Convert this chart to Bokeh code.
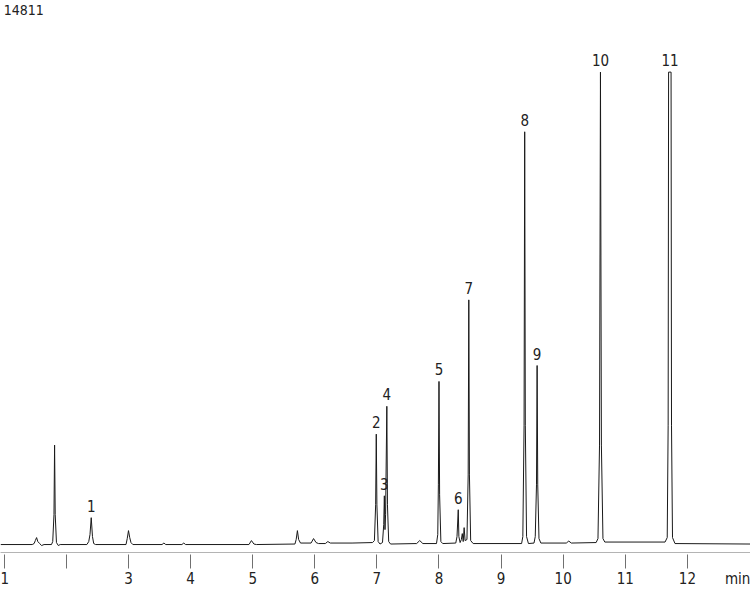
from bokeh.plotting import figure
from bokeh.models import Range1d, FixedTicker, Label, ColumnDataSource
from bokeh.core.properties import value
from bokeh.embed import file_html
from bokeh.resources import INLINE

# ---- data ----
sample_id = "14811"
x_unit = "min"

# trace vertices: retention time (min) and detector signal (arbitrary units)
trace_time = [
    0.94, 1.45,
    1.48, 1.50, 1.52, 1.54, 1.57, 1.60, 1.64,
    1.76, 1.78, 1.80, 1.81, 1.82, 1.84, 1.87, 1.90,
    2.33, 2.36, 2.38, 2.40, 2.42, 2.44, 2.47,
    2.96, 2.98, 3.00, 3.02, 3.04, 3.07,
    3.54, 3.57, 3.60,
    3.86, 3.89, 3.92,
    4.94, 4.98, 5.02, 5.06,
    5.68, 5.70, 5.72, 5.74, 5.77,
    5.94, 5.98, 6.02, 6.06,
    6.17, 6.21, 6.25,
    6.60, 6.93,
    6.96, 6.98, 6.99, 7.00, 7.02, 7.05,
    7.09, 7.11, 7.12, 7.13,
    7.14, 7.16, 7.17, 7.19, 7.22,
    7.64, 7.69, 7.74,
    7.96, 7.98, 7.99, 8.00, 8.01, 8.03, 8.06,
    8.27, 8.29, 8.31, 8.32, 8.34,
    8.36, 8.375, 8.39, 8.405, 8.42,
    8.45, 8.47, 8.48, 8.49, 8.51, 8.55,
    9.33, 9.35, 9.37, 9.38, 9.39, 9.41, 9.44,
    9.53, 9.55, 9.57, 9.58, 9.59, 9.61, 9.64,
    10.05, 10.09, 10.13,
    10.53, 10.56, 10.585, 10.60, 10.615, 10.64, 10.67,
    11.64, 11.675, 11.69, 11.697, 11.737, 11.744, 11.76, 11.80,
    13.02,
]
trace_signal = [
    0, 0,
    1, 4, 7, 3, 1, -1, 0,
    0, 3, 30, 100, 30, 2, -1, 0,
    0, 3, 10, 27, 8, 1, 0,
    0, 6, 14, 7, 2, 0,
    0, 1.5, 0,
    0, 1.5, 0,
    0, 4, 0.5, 0,
    0.5, 5, 14, 5, 1.5,
    1.5, 6, 2, 1,
    1, 3, 1.5,
    1.5, 2,
    4, 40, 111, 40, 3, 0.5,
    2, 20, 49, 15,
    30, 139, 40, 3, 0.5,
    1, 4, 1,
    1, 10, 60, 164, 50, 3, 1,
    1.5, 8, 35, 8, 2,
    5, 11, 3, 17, 4,
    5, 70, 246, 70, 4, 1,
    1, 8, 120, 415, 120, 8, 1,
    1.5, 8, 60, 180, 60, 6, 1.5,
    1.5, 3.5, 1.5,
    2, 6, 100, 475, 100, 6, 2.5,
    2.5, 7, 120, 475, 475, 120, 7, 1,
    0.5,
]

# labelled peaks
peak_names = ["1", "2", "3", "4", "5", "6", "7", "8", "9", "10", "11"]
peak_time = [2.40, 6.99, 7.12, 7.16, 8.00, 8.31, 8.48, 9.38, 9.58, 10.60, 11.72]
peak_height = [27, 111, 49, 139, 164, 35, 246, 415, 180, 475, 475]

# axis: tick marks at whole minutes, labels (2 is unlabelled), unit label position
tick_values = [1, 2, 3, 4, 5, 6, 7, 8, 9, 10, 11, 12]
label_values = [1, 2, 3, 4, 5, 6, 7, 8, 9, 10, 11, 12, 12.81]
label_texts = {1: "1", 2: "", 3: "3", 4: "4", 5: "5", 6: "6", 7: "7", 8: "8",
               9: "9", 10: "10", 11: "11", 12: "12", 12.81: x_unit}

# ---- figure ----
FONT = "DejaVu Sans Condensed"
p = figure(width=750, height=590, output_backend="svg", toolbar_location=None,
           x_range=Range1d(0.939, 13.016), y_range=Range1d(-8, 547),
           y_axis_location=None, min_border_left=0, min_border_right=0,
           min_border_top=0, min_border_bottom=0)
p.outline_line_color = None
p.xgrid.visible = False
p.ygrid.visible = False
p.background_fill_color = "white"
p.border_fill_color = "white"

p.line(trace_time, trace_signal, line_color="#1a1a1a", line_width=1)

src = ColumnDataSource(dict(x=peak_time, y=peak_height, t=peak_names))
p.text(x="x", y="y", text="t", source=src, y_offset=-6,
       text_align="center", text_baseline="bottom",
       text_font=value(FONT), text_font_size="15px", text_color="#222222")

ax = p.xaxis[0]
ax.ticker = FixedTicker(ticks=label_values, minor_ticks=tick_values)
ax.major_label_overrides = label_texts
ax.axis_line_color = "#b4b4b4"
ax.major_tick_line_color = None
ax.major_tick_in = 0
ax.major_tick_out = 16
ax.minor_tick_line_color = "#707070"
ax.minor_tick_in = -2
ax.minor_tick_out = 16
ax.major_label_standoff = 1
ax.major_label_text_font = FONT
ax.major_label_text_font_size = "15px"
ax.major_label_text_color = "#222222"

p.add_layout(Label(x=0.99, y=542, text=sample_id, text_align="left",
                   text_baseline="top", text_font=FONT,
                   text_font_size="14px", text_color="#222222"))

open("out.html", "w").write(file_html(p, INLINE))
